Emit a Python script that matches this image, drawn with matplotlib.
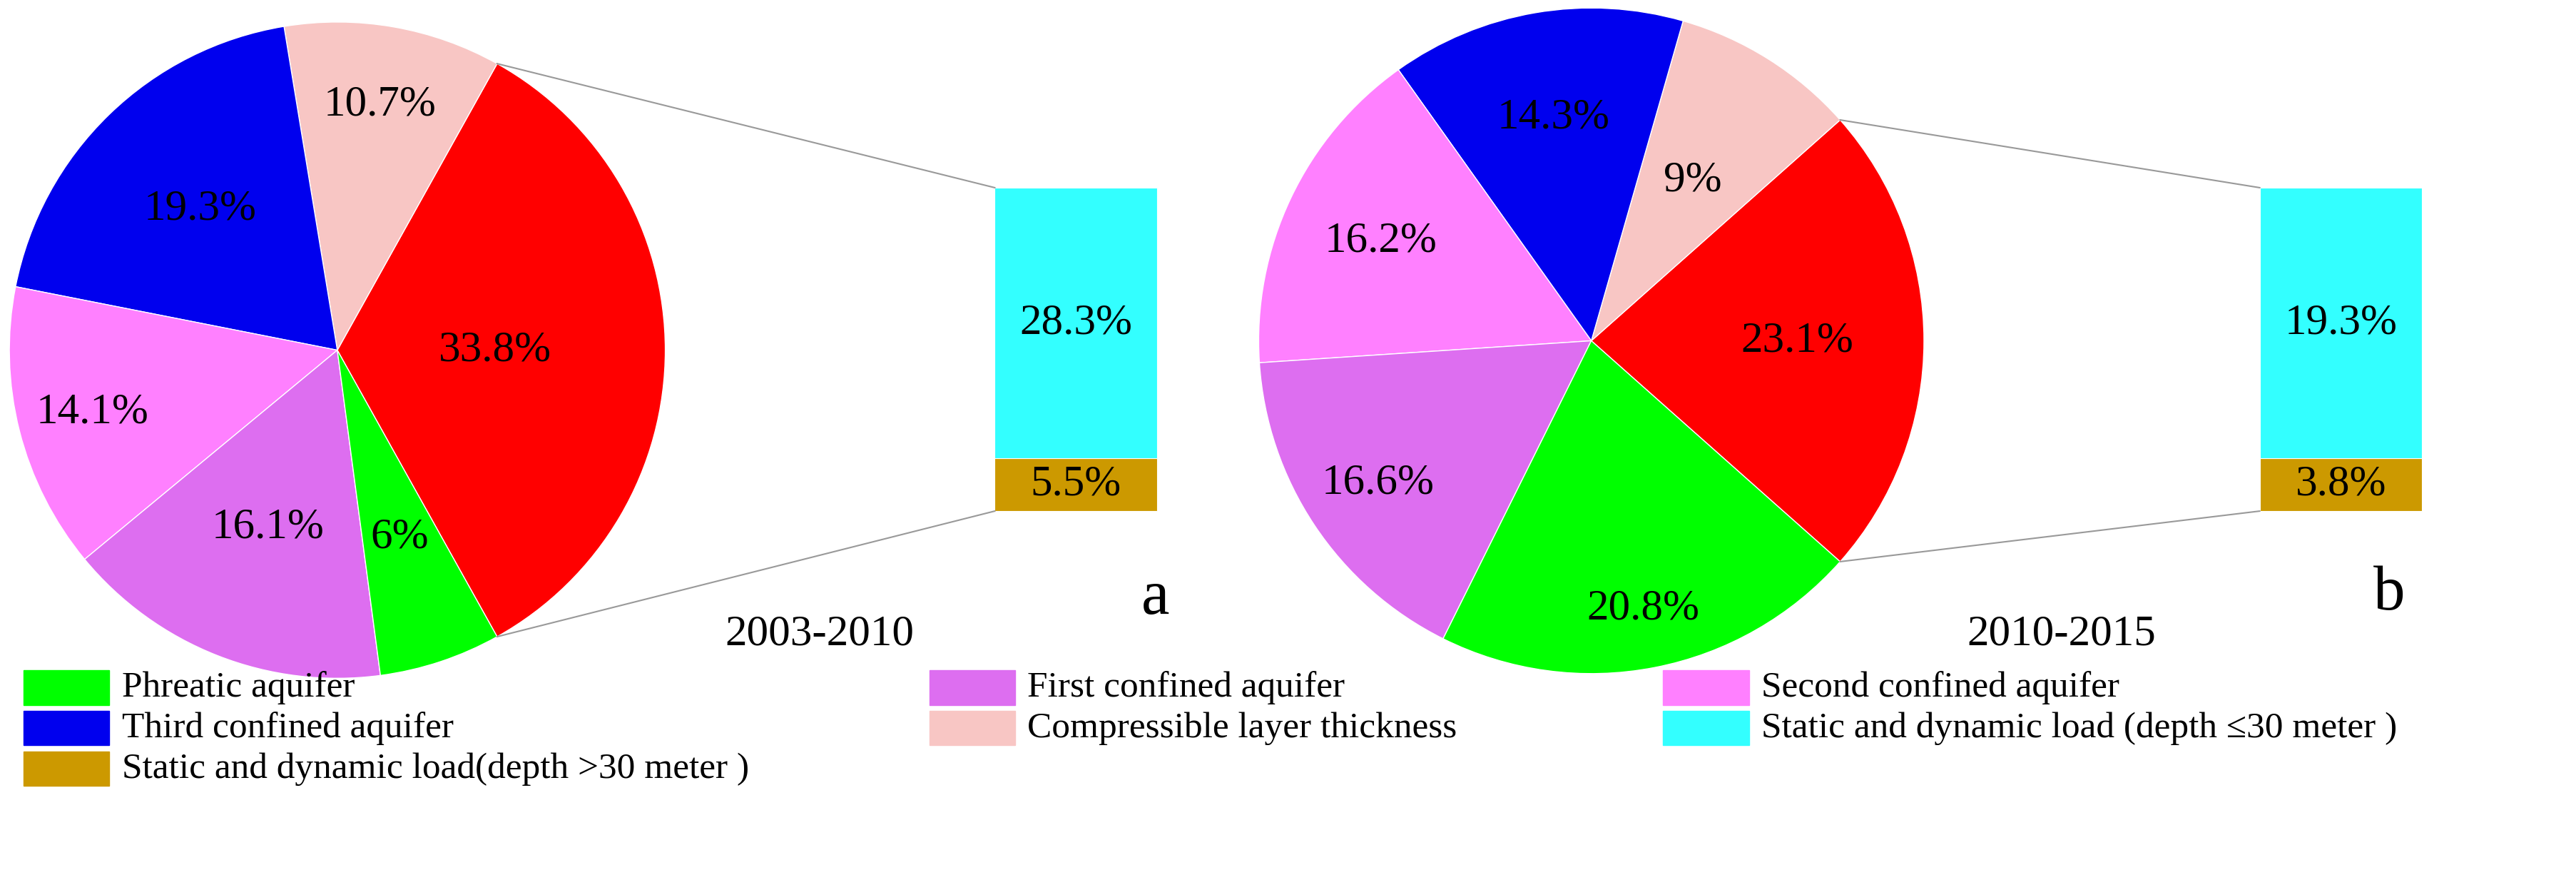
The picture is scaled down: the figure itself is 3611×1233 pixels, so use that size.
import numpy as np
import matplotlib.pyplot as plt

plt.rcParams['font.family'] = ['Liberation Serif', 'DejaVu Serif']

# data
labels = ['Phreatic aquifer', 'First confined aquifer', 'Second confined aquifer',
          'Third confined aquifer', 'Compressible layer thickness',
          'Static and dynamic load (depth \u226430 meter )',
          'Static and dynamic load(depth >30 meter )']
colors = ['#00FF00', '#DD6EF0', '#FF80FF', '#0000EE', '#F8C6C4', '#33FFFF', '#CC9900']

# pie order (counterclockwise from red): load total, compressible, third, second, first, phreatic
pie_a = [33.8, 10.7, 19.3, 14.1, 16.1, 6.0]
pie_b = [23.1, 9.0, 14.3, 16.2, 16.6, 20.8]
bar_a = [5.5, 28.3]   # >30 m, <=30 m
bar_b = [3.8, 19.3]
pie_cols = ['#FF0000', colors[4], colors[3], colors[2], colors[1], colors[0]]

W, H = 1650, 563
fig = plt.figure(figsize=(36.12, 12.33), dpi=100)
ax = fig.add_axes([0, 0, 1, 1])
ax.set_xlim(0, W)
ax.set_ylim(0, H)
ax.set_aspect('equal')
ax.axis('off')


def panel(vals, bars, cx, cy, r, dists, bx, btop, bbot, letter, lpos, period, ppos):
    cy = H - cy
    start = -vals[0] / 100 * 180
    wedges, _ = ax.pie(vals, colors=pie_cols, startangle=start, counterclock=True,
                       center=(cx, cy), radius=r, frame=True,
                       wedgeprops=dict(edgecolor='white', linewidth=1))
    ang = start
    for v, d in zip(vals, dists):
        mid = np.deg2rad(ang + v / 100 * 180)
        ax.text(cx + d * r * np.cos(mid), cy + d * r * np.sin(mid),
                ('%g' % v) + '%', ha='center', va='center', fontsize=44)
        ang += v / 100 * 360
    # stacked bar
    scale = (btop - bbot) / sum(bars) * -1
    bottom = H - bbot
    for v, c in zip(bars, ['#CC9900', '#33FFFF']):
        ax.bar(bx, v * scale, width=104, bottom=bottom, align='edge', color=c,
               edgecolor='white', linewidth=0.8)
        ax.text(bx + 52, bottom + v * scale / 2, ('%g' % v) + '%', ha='center',
                va='center', fontsize=44)
        bottom += v * scale
    # connecting lines
    a = np.deg2rad(vals[0] / 100 * 180)
    ax.plot([cx + r * np.cos(a), bx], [cy + r * np.sin(a), H - btop], color='#999999', lw=1.5)
    ax.plot([cx + r * np.cos(a), bx], [cy - r * np.sin(a), H - bbot], color='#999999', lw=1.5)
    ax.text(lpos[0], H - lpos[1], letter, fontsize=64, ha='center', va='center')
    ax.text(ppos[0], H - ppos[1], period, fontsize=44, ha='center', va='center')


panel(pie_a, bar_a, 216, 224, 210, [0.48, 0.76, 0.6, 0.77, 0.58, 0.6],
      637, 120, 327, 'a', (740, 383), '2003-2010', (525, 406))
panel(pie_b, bar_b, 1019, 218, 213, [0.62, 0.57, 0.68, 0.7, 0.77, 0.82],
      1447, 120, 327, 'b', (1530, 380), '2010-2015', (1320, 406))
ax.set_xlim(0, W)
ax.set_ylim(0, H)
ax.axis('off')

# legend, laid out row by row
leg = [(0, 15, 440), (1, 595, 440), (2, 1065, 440),
       (3, 15, 466), (4, 595, 466), (5, 1065, 466),
       (6, 15, 492)]
for i, x, y in leg:
    ax.add_patch(plt.Rectangle((x, H - y - 11), 55, 22, color=colors[i]))
    ax.text(x + 63, H - y, labels[i], fontsize=37, va='center', ha='left')

fig.savefig('out.png', dpi=100)
